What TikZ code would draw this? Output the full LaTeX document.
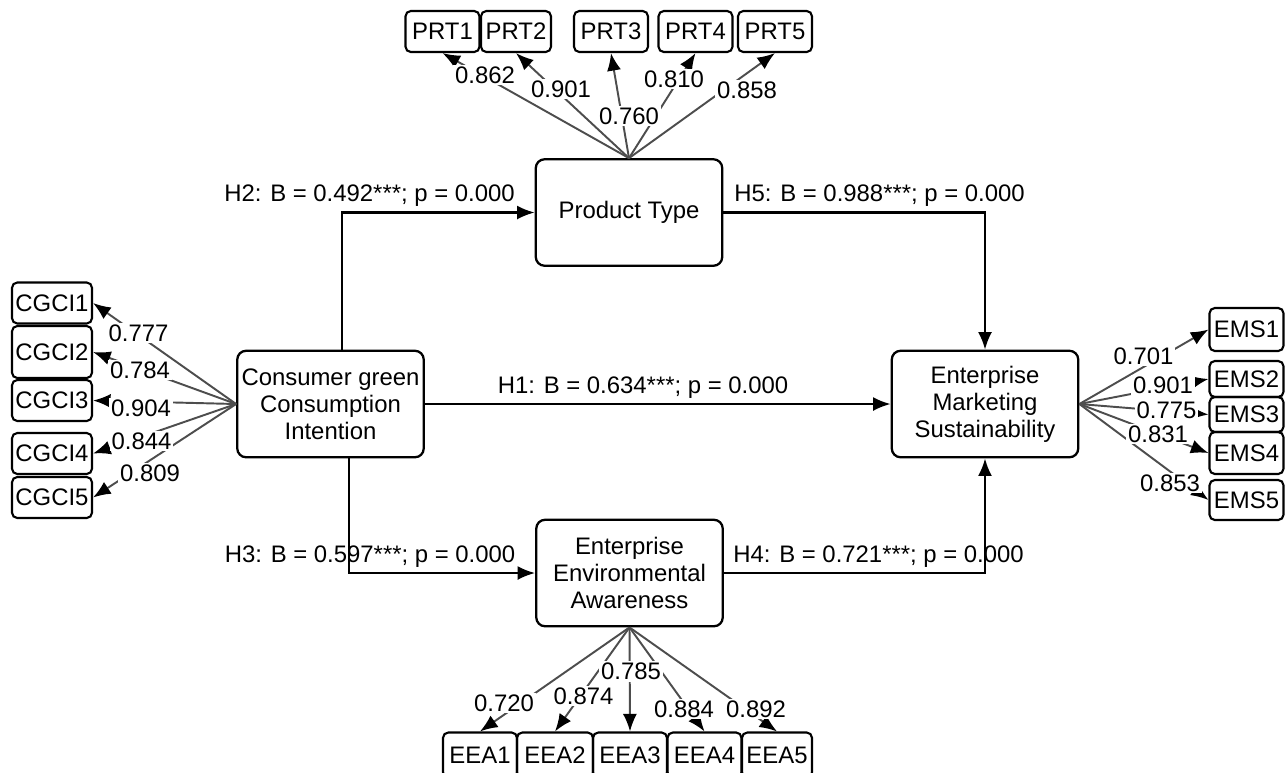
\documentclass[tikz,border=0pt]{standalone}
\usepackage{fontspec}
\setmainfont{Liberation Sans}
\usetikzlibrary{arrows.meta,calc}
\definecolor{loadgray}{HTML}{4D4D4D}
\tikzset{>={Latex[length=10pt,width=8pt]},
  every node/.style={font=\fontsize{13.6}{15.4}\selectfont},
  latent/.style={draw,line width=1.3pt,rounded corners=5pt,align=center,
    minimum width=3.73cm,minimum height=2.13cm,inner sep=1pt},
  item/.style={draw,line width=1.2pt,rounded corners=3pt,minimum width=1.48cm,
    minimum height=.82cm,inner sep=1pt},
  hyp/.style={->,line width=1.3pt},
  load/.style={-{Latex[length=10pt,width=8pt,color=black]},draw=loadgray,line width=1.1pt},
  coef/.style={fill=white,inner sep=1pt},
  hypo/.style={inner sep=1pt}}

\begin{document}
\begin{tikzpicture}[x=.02cm,y=-.02cm]
\path[use as bounding box] (0,0) rectangle (1287,772);

% latent constructs
\node[latent] (pt) at (629,212.5) {Product Type};
\node[latent] (cgci) at (330.5,404) {Consumer green\\Consumption\\Intention};
\node[latent] (ems) at (985,404) {Enterprise\\Marketing\\Sustainability};
\node[latent] (eea) at (629.5,573) {Enterprise\\Environmental\\Awareness};

% indicators
\node[item] (prt1) at (442.5,31.5) {PRT1};
\node[item,minimum width=1.4cm] (prt2) at (516,31.5) {PRT2};
\node[item] (prt3) at (611,31.5) {PRT3};
\node[item] (prt4) at (695.5,31.5) {PRT4};
\node[item] (prt5) at (775,31.5) {PRT5};
\node[item,minimum width=1.6cm] (cgci1) at (52,303) {CGCI1};
\node[item,minimum width=1.6cm,minimum height=1.04cm] (cgci2) at (52,352) {CGCI2};
\node[item,minimum width=1.6cm] (cgci3) at (52,400.5) {CGCI3};
\node[item,minimum width=1.6cm] (cgci4) at (52,453.5) {CGCI4};
\node[item,minimum width=1.6cm] (cgci5) at (52,497.5) {CGCI5};
\node[item,minimum height=.86cm] (ems1) at (1246.5,329.5) {EMS1};
\node[item,minimum height=.72cm] (ems2) at (1246.5,379) {EMS2};
\node[item,minimum height=.7cm] (ems3) at (1246.5,414.5) {EMS3};
\node[item,minimum height=.84cm] (ems4) at (1246.5,453) {EMS4};
\node[item,minimum height=.8cm] (ems5) at (1246.5,500) {EMS5};
\node[item,minimum height=.9cm] (eea1) at (480,755) {EEA1};
\node[item,minimum height=.9cm,minimum width=1.52cm] (eea2) at (555,755) {EEA2};
\node[item,minimum height=.9cm] (eea3) at (630,755) {EEA3};
\node[item,minimum height=.9cm] (eea4) at (704.5,755) {EEA4};
\node[item,minimum height=.9cm,minimum width=1.4cm] (eea5) at (777,755) {EEA5};

% hypotheses
\node[hypo] (h2) at (369.5,196) {H2: B = 0.492***; p = 0.000};
\node[hypo] (h5) at (879.5,196) {H5: B = 0.988***; p = 0.000};
\node[hypo] (h1) at (643,388) {H1: B = 0.634***; p = 0.000};
\node[hypo] (h3) at (370,557) {H3: B = 0.597***; p = 0.000};
\node[hypo] (h4) at (878.5,557) {H4: B = 0.721***; p = 0.000};
\draw[hyp] ($(cgci.north)+(11.5,0)$) |- (pt.west);
\draw[hyp] (pt.east) -| (ems.north);
\draw[hyp] (cgci.east) -- (ems.west);
\draw[hyp] ($(cgci.south)+(18.5,0)$) |- (eea.west);
\draw[hyp] (eea.east) -| (ems.south);

% outer loadings
\draw[load] (pt.north) -- (prt1.south);
\draw[load] (pt.north) -- (prt2.south);
\draw[load] (pt.north) -- (prt3.south);
\draw[load] (pt.north) -- (prt4.south);
\draw[load] (pt.north) -- (prt5.south);
\draw[load] (cgci.west) -- (cgci1.east);
\draw[load] (cgci.west) -- (cgci2.east);
\draw[load] (cgci.west) -- (cgci3.east);
\draw[load] (cgci.west) -- (cgci4.east);
\draw[load] (cgci.west) -- (cgci5.east);
\draw[load] (ems.east) -- (ems1.west);
\draw[load] (ems.east) -- (ems2.west);
\draw[load] (ems.east) -- (ems3.west);
\draw[load] (ems.east) -- (ems4.west);
\draw[load] (ems.east) -- (ems5.west);
\draw[load] (eea.south) -- (eea1.north);
\draw[load] (eea.south) -- (eea2.north);
\draw[load] (eea.south) -- (eea3.north);
\draw[load] (eea.south) -- (eea4.north);
\draw[load] (eea.south) -- (eea5.north);

\node[coef] (lprt1) at (485,75) {0.862};
\node[coef] (lprt2) at (561,89) {0.901};
\node[coef] (lprt3) at (629,116) {0.760};
\node[coef] (lprt4) at (674,79) {0.810};
\node[coef] (lprt5) at (747,90) {0.858};
\node[coef] (lcgci1) at (138.5,333) {0.777};
\node[coef] (lcgci2) at (140,370) {0.784};
\node[coef] (lcgci3) at (141,408) {0.904};
\node[coef] (lcgci4) at (141.5,441) {0.844};
\node[coef] (lcgci5) at (150,473) {0.809};
\node[coef] (lems1) at (1143.5,356) {0.701};
\node[coef] (lems2) at (1163,385) {0.901};
\node[coef] (lems3) at (1166.5,410.5) {0.775};
\node[coef] (lems4) at (1158,434) {0.831};
\node[coef] (lems5) at (1170,483) {0.853};
\node[coef] (leea1) at (504,703) {0.720};
\node[coef] (leea2) at (583.5,696) {0.874};
\node[coef] (leea3) at (631,671.5) {0.785};
\node[coef] (leea4) at (684,709) {0.884};
\node[coef] (leea5) at (756,709) {0.892};
\end{tikzpicture}
\end{document}
